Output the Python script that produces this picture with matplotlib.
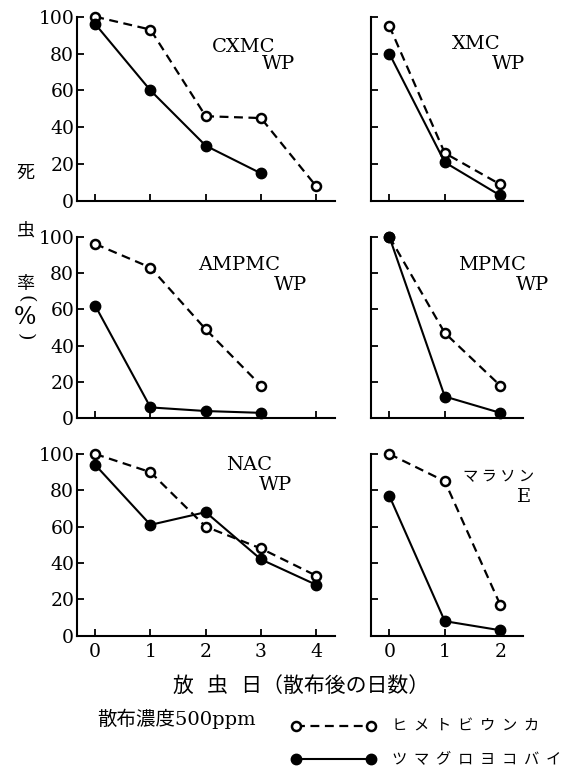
import matplotlib
matplotlib.use("Agg")
import matplotlib.pyplot as plt
from matplotlib.lines import Line2D

plt.rcParams['font.family'] = ['DejaVu Serif', 'Noto Sans CJK JP']
plt.rcParams['axes.linewidth'] = 1.5

#----------------------------------- data: mortality (%) by days after spraying -----------------------------------
days_long = [0, 1, 2, 3, 4]
days_short = [0, 1, 2]

cxmc_hime = [100, 93, 46, 45, 8]
cxmc_tsuma = [96, 60, 30, 15]

xmc_hime = [95, 26, 9]
xmc_tsuma = [80, 21, 3]

ampmc_hime = [96, 83, 49, 18]
ampmc_tsuma = [62, 6, 4, 3]

mpmc_hime = [100, 47, 18]
mpmc_tsuma = [100, 12, 3]

nac_hime = [100, 90, 60, 48, 33]
nac_tsuma = [94, 61, 68, 42, 28]

mara_hime = [100, 85, 17]
mara_tsuma = [77, 8, 3]

y_ticks = [0, 20, 40, 60, 80, 100]
hime_label = 'ヒ  メ  ト  ビ  ウ  ン  カ'
tsuma_label = 'ツ  マ  グ  ロ  ヨ  コ  バ  イ'

#----------------------------------- layout helpers (pixels) -----------------------------------
W, H = 566, 770


def box(x0, x1, ytop, ybot):
	return [x0 / W, 1 - ybot / H, (x1 - x0) / W, (ybot - ytop) / H]


def ftext(x, y, s, **kw):
	fig.text(x / W, 1 - y / H, s, **kw)


fig = plt.figure(figsize=(W / 100, H / 100), dpi=100)

cols = [(77, 335, (-0.33, 4.34), days_long), (371, 523, (-0.33, 2.41), days_short)]
rows = [(16.7, 201), (236.7, 418.3), (454, 635.7)]

panels = [
	(0, 0, cxmc_hime, cxmc_tsuma),
	(0, 1, xmc_hime, xmc_tsuma),
	(1, 0, ampmc_hime, ampmc_tsuma),
	(1, 1, mpmc_hime, mpmc_tsuma),
	(2, 0, nac_hime, nac_tsuma),
	(2, 1, mara_hime, mara_tsuma),
]

dash = (0, (4, 2.5))

for r, c, hime, tsuma in panels:
	x0, x1, xl, days = cols[c]
	ytop, ybot = rows[r]
	ax = fig.add_axes(box(x0, x1, ytop, ybot))
	ax.plot(days[:len(hime)], hime, color='black', ls=dash, lw=1.6,
		marker='o', ms=6.5, mfc='white', mec='black', mew=1.8, clip_on=False, zorder=3)
	ax.plot(days[:len(tsuma)], tsuma, color='black', lw=1.5,
		marker='o', ms=7.5, mfc='black', mec='black', clip_on=False, zorder=4)
	ax.set_xlim(*xl)
	ax.set_ylim(0, 100)
	ax.spines['top'].set_visible(False)
	ax.spines['right'].set_visible(False)
	ax.spines['left'].set_bounds(0, 100)
	ax.set_xticks(days)
	ax.set_yticks(y_ticks)
	ax.tick_params(direction='in', length=5, width=1.3, labelsize=13.5, colors='black')
	ax.tick_params(axis='y', pad=2)
	ax.tick_params(axis='x', pad=5)
	if c == 1:
		ax.tick_params(labelleft=False)
	if r < 2:
		ax.tick_params(labelbottom=False)

#----------------------------------- panel titles -----------------------------------
lbl = dict(fontsize=14, va='center', ha='left')
ftext(212, 46.5, 'CXMC', **lbl)
ftext(262, 64, 'WP', **lbl)
ftext(452, 44, 'XMC', **lbl)
ftext(492, 64, 'WP', **lbl)
ftext(198, 265, 'AMPMC', **lbl)
ftext(274, 285, 'WP', **lbl)
ftext(458, 265, 'MPMC', **lbl)
ftext(516, 285, 'WP', **lbl)
ftext(226, 465.5, 'NAC', **lbl)
ftext(259, 485.5, 'WP', **lbl)
ftext(463, 477, 'マ ラ ソ ン', fontsize=11, va='center', ha='left', family=['Noto Sans CJK JP'])
ftext(517, 497, 'E', **lbl)

#----------------------------------- y label, stacked vertically -----------------------------------
cjk = dict(family=['Noto Sans CJK JP'], ha='center', va='center')
ftext(25, 173, '死', fontsize=13, **cjk)
ftext(25, 231, '虫', fontsize=13, **cjk)
ftext(25, 284, '率', fontsize=13, **cjk)
ftext(25, 299, '(', fontsize=14, rotation=-90, ha='center', va='center')
ftext(25, 317, '%', fontsize=17, ha='center', va='center')
ftext(25, 337, ')', fontsize=14, rotation=-90, ha='center', va='center')

#----------------------------------- x label and notes -----------------------------------
ftext(301, 686, '放  虫  日（散布後の日数）', fontsize=15, ha='center', va='center')
ftext(97, 719, '散布濃度500ppm', fontsize=14, ha='left', va='center')

h1 = Line2D([], [], color='black', ls=dash, lw=1.6, marker='o', ms=6.5, mfc='white', mec='black', mew=1.8)
h2 = Line2D([], [], color='black', lw=1.5, marker='o', ms=7.5, mfc='black', mec='black')
fig.legend([h1, h2], [hime_label, tsuma_label], loc='upper left',
	bbox_to_anchor=(291.4 / W, 1 - 718 / H), numpoints=2, handlelength=5.5,
	handletextpad=1.1, labelspacing=1.05, borderpad=0, borderaxespad=0, frameon=False,
	prop={'family': ['Noto Sans CJK JP'], 'size': 11})

fig.savefig('out.png', dpi=100)
